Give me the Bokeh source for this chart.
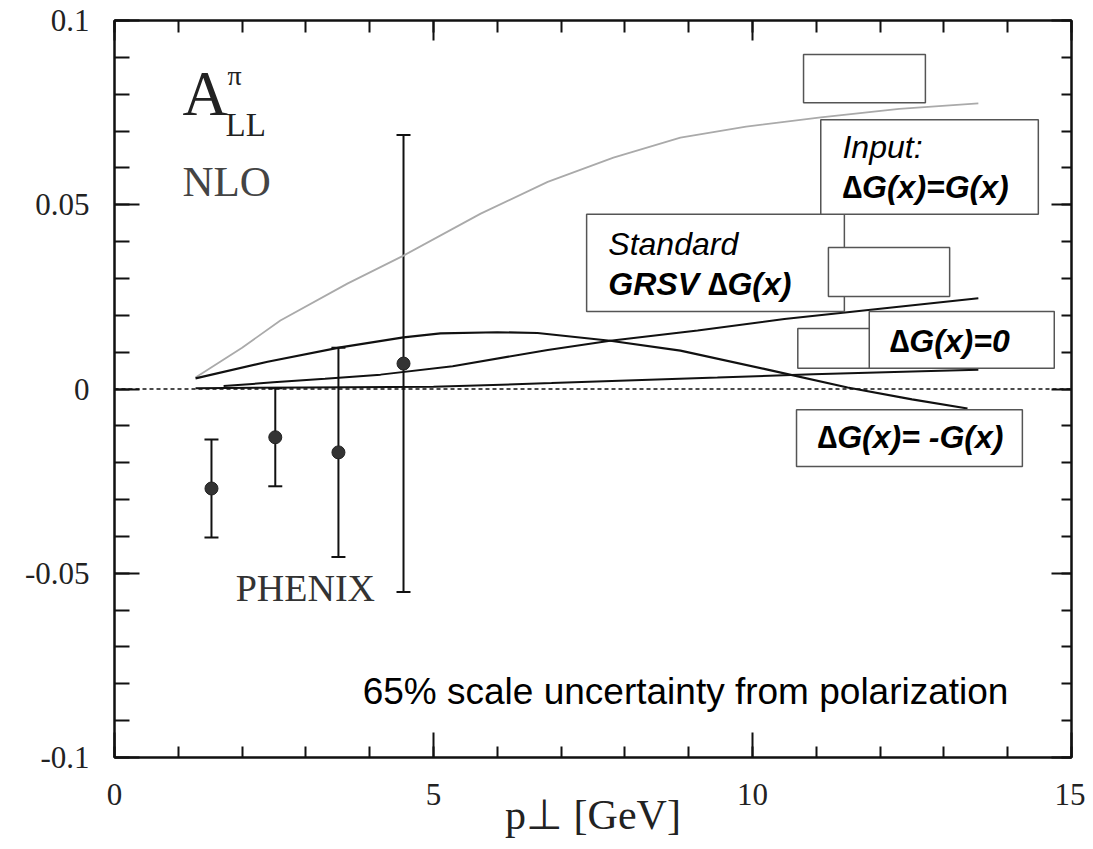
from bokeh.plotting import figure
from bokeh.models import Range1d, FixedTicker, LinearAxis, Whisker, ColumnDataSource, TeeHead, Span
from bokeh.embed import file_html
from bokeh.resources import INLINE
from bokeh.core.properties import value

# ---------------- data ----------------
x_major = [0, 5, 10, 15]
x_minor = [0, 1, 2, 3, 4, 5, 6, 7, 8, 9, 10, 11, 12, 13, 14, 15]
y_major = [-0.1, -0.05, 0.0, 0.05, 0.1]
y_labels = {-0.1: "-0.1", -0.05: "-0.05", 0.0: "0", 0.05: "0.05", 0.1: "0.1"}
y_minor = [-0.1, -0.09, -0.08, -0.07, -0.06, -0.05, -0.04, -0.03, -0.02, -0.01, 0.0,
           0.01, 0.02, 0.03, 0.04, 0.05, 0.06, 0.07, 0.08, 0.09, 0.1]

# Delta G = G (gray)
pt_g = [1.27, 2.0, 2.6, 3.65, 4.53, 5.74, 6.79, 7.82, 8.87, 9.9, 11.07, 12.3, 13.54]
all_g = [0.0031, 0.0112, 0.0186, 0.0286, 0.0362, 0.0476, 0.0562, 0.0628, 0.0682,
         0.0712, 0.0737, 0.0760, 0.0775]

# standard GRSV
pt_grsv = [1.27, 2.4, 3.54, 4.53, 5.11, 6.0, 6.63, 7.77, 8.87, 10.2, 11.49, 12.5, 13.37]
all_grsv = [0.0029, 0.0074, 0.0113, 0.0140, 0.0151, 0.0154, 0.0152, 0.0131, 0.0104,
            0.0054, 0.0004, -0.0028, -0.0053]

# Delta G = 0
pt_zero = [1.71, 2.49, 3.3, 4.17, 5.3, 6.79, 7.77, 9.14, 10.5, 12.0, 13.54]
all_zero = [0.0008, 0.0018, 0.0028, 0.0039, 0.0062, 0.0106, 0.0131, 0.0159, 0.0190,
            0.0218, 0.0246]

# Delta G = -G
pt_neg = [1.27, 3.0, 5.0, 6.85, 8.15, 9.45, 10.95, 12.65, 13.54]
all_neg = [0.0002, 0.0004, 0.0006, 0.0016, 0.0024, 0.0031, 0.0040, 0.0048, 0.0052]

# PHENIX data
phenix_pt = [1.52, 2.52, 3.51, 4.53]
phenix_all = [-0.0270, -0.0131, -0.0172, 0.0069]
phenix_err = [0.0133, 0.0133, 0.0284, 0.0620]

# ---------------- figure ----------------
p = figure(width=1085, height=845, x_range=Range1d(0, 15), y_range=Range1d(-0.1, 0.1),
           output_backend="svg", toolbar_location=None,
           min_border_left=114, min_border_right=14, min_border_top=20, min_border_bottom=88)
p.background_fill_color = "white"
p.border_fill_color = "white"
p.outline_line_color = "#111111"
p.outline_line_width = 2
p.xgrid.visible = False
p.ygrid.visible = False

serif = "Liberation Serif"
sans = "Liberation Sans"
ink = "#222222"
dark = "#111111"

xa = p.xaxis[0]
xa.ticker = FixedTicker(ticks=x_major, minor_ticks=x_minor)
xa.major_label_text_font = serif
xa.major_label_text_font_size = "31px"
xa.major_label_text_color = ink
xa.major_label_standoff = 26
xa.major_tick_in = 25
xa.major_tick_out = 0
xa.minor_tick_in = 11
xa.minor_tick_out = 0
xa.axis_line_width = 2
xa.axis_line_color = dark
xa.major_tick_line_width = 2
xa.minor_tick_line_width = 2
xa.major_tick_line_color = dark
xa.minor_tick_line_color = dark
xa.axis_label = "p\u22a5 [GeV]"
xa.axis_label_text_font = serif
xa.axis_label_text_font_size = "42px"
xa.axis_label_text_font_style = "normal"
xa.axis_label_text_color = ink
xa.axis_label_standoff = -16

ya = p.yaxis[0]
ya.ticker = FixedTicker(ticks=y_major, minor_ticks=y_minor)
ya.major_label_overrides = y_labels
ya.major_label_text_font = serif
ya.major_label_text_font_size = "31px"
ya.major_label_text_color = ink
ya.major_label_standoff = 25
ya.major_tick_in = 25
ya.major_tick_out = 0
ya.minor_tick_in = 15
ya.minor_tick_out = 0
ya.axis_line_width = 2
ya.axis_line_color = dark
ya.major_tick_line_width = 2
ya.minor_tick_line_width = 2
ya.major_tick_line_color = dark
ya.minor_tick_line_color = dark

top = LinearAxis(ticker=FixedTicker(ticks=x_major, minor_ticks=x_minor),
                 major_label_overrides={t: "" for t in x_major}, major_label_standoff=0,
                 major_tick_in=20, major_tick_out=0, minor_tick_in=12, minor_tick_out=0,
                 axis_line_width=2, major_tick_line_width=2, minor_tick_line_width=2,
                 axis_line_color=dark, major_tick_line_color=dark, minor_tick_line_color=dark)
p.add_layout(top, "above")
right = LinearAxis(ticker=FixedTicker(ticks=y_major, minor_ticks=y_minor),
                   major_label_overrides={t: "" for t in y_major}, major_label_standoff=0,
                   major_tick_in=20, major_tick_out=0, minor_tick_in=10, minor_tick_out=0,
                   axis_line_width=2, major_tick_line_width=2, minor_tick_line_width=2,
                   axis_line_color=dark, major_tick_line_color=dark, minor_tick_line_color=dark)
p.add_layout(right, "right")

# zero line
p.add_layout(Span(location=0, dimension="width", line_color=dark, line_width=1.5,
                  line_dash="4 3"))

# curves
p.line(pt_g, all_g, line_color="#aaaaaa", line_width=1.8)
p.line(pt_grsv, all_grsv, line_color=dark, line_width=2.2)
p.line(pt_zero, all_zero, line_color=dark, line_width=2.0)
p.line(pt_neg, all_neg, line_color=dark, line_width=2.0)

# PHENIX points with error bars
src = ColumnDataSource(dict(
    x=phenix_pt, y=phenix_all,
    upper=[a + e for a, e in zip(phenix_all, phenix_err)],
    lower=[a - e for a, e in zip(phenix_all, phenix_err)]))
wh = Whisker(base="x", upper="upper", lower="lower", source=src, dimension="height",
             line_color=dark, line_width=2,
             upper_head=TeeHead(size=14, line_color=dark, line_width=2),
             lower_head=TeeHead(size=14, line_color=dark, line_width=2))
p.add_layout(wh)
p.scatter("x", "y", source=src, size=13, fill_color="#333333", line_color="#222222")

# boxes (left, right, top, bottom)
box_style = dict(fill_color="white", line_color="#555555", line_width=1.5)
p.quad(left=[7.40], right=[11.44], top=[0.0474], bottom=[0.0210], **box_style)   # Standard
p.quad(left=[11.07], right=[14.48], top=[0.0731], bottom=[0.0474], **box_style)  # Input
p.quad(left=[10.80], right=[12.71], top=[0.0908], bottom=[0.0777], **box_style)  # empty
p.quad(left=[11.19], right=[13.09], top=[0.0384], bottom=[0.0251], **box_style)  # empty
p.quad(left=[10.71], right=[11.90], top=[0.0164], bottom=[0.0056], **box_style)  # empty
p.quad(left=[11.83], right=[14.73], top=[0.0210], bottom=[0.0056], **box_style)  # dG=0
p.quad(left=[10.69], right=[14.23], top=[-0.0056], bottom=[-0.0210], **box_style)  # dG=-G

# serif labels
def serif_text(x, y, t, size, color=ink):
    p.text(x=[x], y=[y], text=[t], text_font=value(serif), text_font_size=size,
           text_color=color, text_baseline="alphabetic")

serif_text(1.066, 0.0800, "A", "63px")
serif_text(1.77, 0.0852, "\u03c0", "28px")
serif_text(1.74, 0.0716, "LL", "33px")
serif_text(1.066, 0.0563, "NLO", "43px", "#444444")
serif_text(1.90, -0.0541, "PHENIX", "38px", "#333333")

# sans labels in boxes
def sans_text(x, y, t, style, size="32px"):
    p.text(x=[x], y=[y], text=[t], text_font=value(sans), text_font_size=size,
           text_font_style=style, text_color="black", text_baseline="alphabetic")

sans_text(11.41, 0.0658, "Input:", "italic")
sans_text(11.41, 0.0549, "\u2206G(x)=G(x)", "bold italic")
sans_text(7.74, 0.0394, "Standard", "italic")
sans_text(7.74, 0.0286, "GRSV \u2206G(x)", "bold italic")
sans_text(12.15, 0.0131, "\u2206G(x)=0", "bold italic")
sans_text(11.02, -0.0129, "\u2206G(x)= -G(x)", "bold italic")
sans_text(3.89, -0.0822, "65% scale uncertainty from polarization", "normal", "37px")

open("out.html", "w").write(file_html(p, INLINE))
